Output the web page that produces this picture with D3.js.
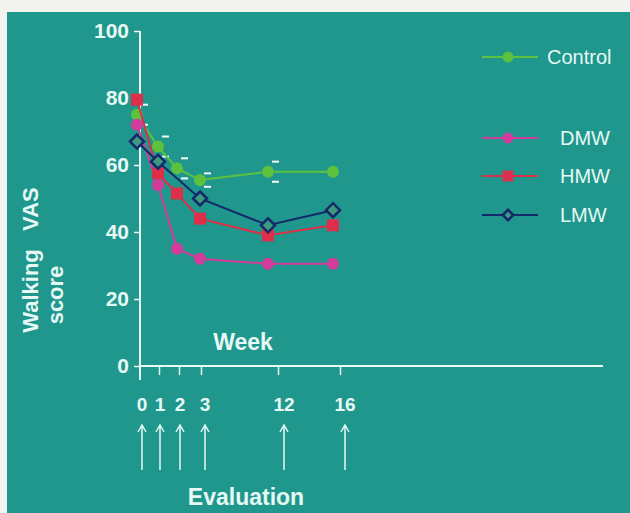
<!DOCTYPE html>
<html>
<head>
<meta charset="utf-8">
<script src="https://cdn.jsdelivr.net/npm/d3@7"></script>
<style>
  html, body { margin: 0; padding: 0; background: #f3f4ef; }
  svg { display: block; font-family: "Liberation Sans", Arial, sans-serif; }
</style>
</head>
<body>
<svg class="plot" width="630" height="513"></svg>
<script>
// weeks of evaluation
const weeks = [0, 1, 2, 3, 12, 16];
const weekLabels = ['0', '1', '2', '3', '12', '16'];
const yTicks = [0, 20, 40, 60, 80, 100];

// walking VAS score per group (null = not plotted)
const control = [75, 65.5, 59, 55.5, 58, 58];
const controlErr = [3, 3, 3, 2, 3, 0];
const dmw = [72, 54, 35, 32, 30.5, 30.5];
const hmw = [79.5, 57.5, 51.5, 44, 39, 42];
const lmw = [67, 61, null, 50, 42, 46.5];

const groups = [
  {name: 'Control', values: control, color: '#5cc23e', marker: 'circle', legendY: 57, textX: 547},
  {name: 'DMW', values: dmw, color: '#d33c9c', marker: 'circle', legendY: 138, textX: 560},
  {name: 'HMW', values: hmw, color: '#de2f4a', marker: 'square', legendY: 176, textX: 560},
  {name: 'LMW', values: lmw, color: '#13296a', marker: 'diamond', legendY: 215, textX: 560}
];

const W = 630, H = 513;
const bg = '#20978c', fg = '#e6f9f5';

// data, axis ticks and evaluation labels sit at slightly different spots in the original
const x = d3.scaleLinear().domain(weeks).range([137, 158, 177, 200, 268, 333]);
const xAxisS = d3.scaleLinear().domain(weeks).range([140, 159, 179, 201, 278, 340]);
const xEval = d3.scaleLinear().domain(weeks).range([142, 160, 180, 205, 284, 345]);
const y = d3.scaleLinear().domain([0, 100]).range([366, 31]);

const svg = d3.select('.plot');
svg.append('rect').attr('x', 7).attr('y', 12).attr('width', W - 7).attr('height', H - 12).attr('fill', bg);

// y axis
const gy = svg.append('g').attr('transform', 'translate(140,0)')
  .call(d3.axisLeft(y).tickValues(yTicks).tickSize(6).tickPadding(5));
gy.select('.domain').attr('stroke', fg).attr('stroke-width', 2).attr('d', 'M0,31V380');
gy.selectAll('.tick line').attr('stroke', fg).attr('stroke-width', 1.5);
gy.selectAll('.tick text').attr('fill', fg).attr('font-size', 21).attr('font-weight', 'bold');

// x axis
const gx = svg.append('g').attr('transform', 'translate(0,366)')
  .call(d3.axisBottom(xAxisS).tickValues(weeks.slice(1)).tickSize(9).tickFormat(''));
gx.select('.domain').attr('stroke', fg).attr('stroke-width', 2).attr('d', 'M140,0H603');
gx.selectAll('.tick line').attr('stroke', fg).attr('stroke-width', 1.5);

// week numbers and evaluation arrows
svg.append('g').selectAll('text').data(weeks).join('text')
  .attr('x', d => xEval(d)).attr('y', 411)
  .attr('text-anchor', 'middle').attr('fill', fg)
  .attr('font-size', 19).attr('font-weight', 'bold')
  .text((d, i) => weekLabels[i]);

const arrows = svg.append('g').attr('stroke', fg).attr('stroke-width', 1.5).attr('fill', 'none');
arrows.selectAll('path').data(weeks).join('path')
  .attr('d', d => {
    const cx = xEval(d);
    return `M${cx},470V425M${cx - 4},432L${cx},425L${cx + 4},432`;
  });

svg.append('text').attr('x', 243).attr('y', 350).attr('text-anchor', 'middle')
  .attr('fill', fg).attr('font-size', 23).attr('font-weight', 'bold').text('Week');
svg.append('text').attr('x', 246).attr('y', 505).attr('text-anchor', 'middle')
  .attr('fill', fg).attr('font-size', 23).attr('font-weight', 'bold').text('Evaluation');

// y label
svg.append('text').attr('transform', 'translate(38,260) rotate(-90)')
  .attr('text-anchor', 'middle').attr('fill', fg).attr('font-size', 22).attr('font-weight', 'bold')
  .style('white-space', 'pre').text('Walking   VAS');
svg.append('text').attr('transform', 'translate(63,295) rotate(-90)')
  .attr('text-anchor', 'middle').attr('fill', fg).attr('font-size', 22).attr('font-weight', 'bold')
  .text('score');

// error caps on control
const caps = svg.append('g').attr('stroke', '#f4fbf8').attr('stroke-width', 2);
weeks.forEach((w, i) => {
  if (!controlErr[i]) return;
  [1, -1].forEach(s => {
    caps.append('line')
      .attr('x1', x(w) + 4).attr('x2', x(w) + 11)
      .attr('y1', y(control[i] + s * controlErr[i])).attr('y2', y(control[i] + s * controlErr[i]));
  });
});

const line = d3.line().x(d => x(d[0])).y(d => y(d[1]));

const drawMarker = (g, type, color, cx, cy, s) => {
  if (type === 'circle') {
    g.append('circle').attr('cx', cx).attr('cy', cy).attr('r', 6 * s).attr('fill', color);
  } else if (type === 'square') {
    g.append('rect').attr('x', cx - 6 * s).attr('y', cy - 6 * s)
      .attr('width', 12 * s).attr('height', 12 * s).attr('fill', color);
  } else {
    const r = 7 * s;
    g.append('path').attr('d', `M${cx},${cy - r}L${cx + r},${cy}L${cx},${cy + r}L${cx - r},${cy}Z`)
      .attr('fill', '#3c9a7e').attr('stroke', color).attr('stroke-width', 2.5);
  }
};

groups.forEach(gr => {
  const pts = weeks.map((w, i) => [w, gr.values[i]]).filter(d => d[1] != null);
  const g = svg.append('g');
  g.append('path').datum(pts).attr('d', line)
    .attr('fill', 'none').attr('stroke', gr.color).attr('stroke-width', 2);
  pts.forEach(d => drawMarker(g, gr.marker, gr.color, x(d[0]), y(d[1]), 1));

  // legend
  const lg = svg.append('g');
  lg.append('line').attr('x1', 482).attr('x2', 538).attr('y1', gr.legendY).attr('y2', gr.legendY)
    .attr('stroke', gr.color).attr('stroke-width', 2);
  drawMarker(lg, gr.marker, gr.color, 508, gr.legendY, gr.marker === 'diamond' ? 0.75 : 0.9);
  lg.append('text').attr('x', gr.textX).attr('y', gr.legendY + 7)
    .attr('fill', fg).attr('font-size', 20).text(gr.name);
});
</script>
</body>
</html>
